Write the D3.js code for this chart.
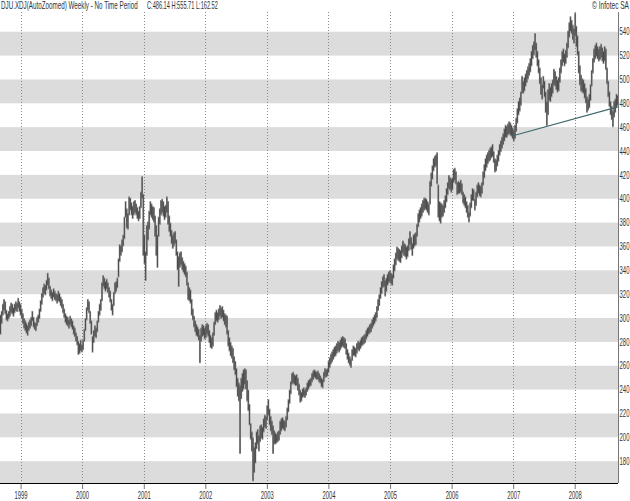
<!DOCTYPE html>
<html>
<head>
<meta charset="utf-8">
<script src="https://cdn.jsdelivr.net/npm/d3@7"></script>
<style>
  html, body { margin: 0; padding: 0; background: #fff; }
  svg { display: block; font-family: "Liberation Sans", Arial, sans-serif; }
</style>
</head>
<body>
<svg id="chart" width="630" height="501"></svg>
<script>
// weekly bars, [high, low], first bar dated 1998-09-04
const firstWeek = "1998-09-04";
const bars1998 = [[303,286],[306,295],[312,302],[316,306],[314,303],[307,298],[304,297],[306,299],[310,301],[313,304],[312,303],[309,301],[312,304],[314,306],[313,305],[317,308],[314,305]];
const bars1999 = [[312,302],[308,299],[304,295],[300,291],[298,289],[296,287],[294,285],[297,289],[299,291],[301,293],[306,297],[301,292],[297,290],[296,289],[301,293],[303,296],[308,299],[315,305],[321,311],[326,317],[329,320],[328,319],[332,323],[338,327],[334,324],[327,318],[324,316],[322,314],[325,317],[323,315],[321,314],[320,312],[323,314],[321,313],[318,310],[316,308],[312,304],[308,300],[304,296],[302,294],[301,293],[299,291],[302,294],[300,292],[298,290],[294,286],[292,284],[288,280],[285,277],[281,269],[279,270],[282,272],[278,271]];
const bars2000 = [[282,273],[291,280],[300,289],[309,298],[316,306],[314,304],[306,295],[298,286],[285,271],[290,279],[294,284],[292,283],[298,288],[306,296],[312,302],[316,306],[330,314],[336,326],[334,324],[331,322],[333,324],[330,321],[326,317],[323,313],[316,306],[312,302],[322,310],[330,320],[331,322],[334,325],[350,334],[362,347],[361,352],[366,355],[370,360],[385,366],[398,384],[392,375],[388,374],[402,386],[401,390],[397,386],[394,383],[398,386],[399,388],[396,386],[393,383],[390,381],[394,383],[406,392],[419,400],[404,352]];
const bars2001 = [[370,345],[356,331],[378,352],[381,365],[390,374],[398,386],[396,384],[394,382],[393,380],[386,368],[378,352],[370,342],[385,368],[392,378],[399,386],[400,388],[398,385],[394,382],[395,384],[402,388],[398,378],[386,372],[380,368],[374,362],[370,358],[372,360],[373,362],[366,352],[356,340],[352,326],[355,342],[356,344],[351,340],[348,338],[346,336],[344,334],[339,327],[330,315],[326,314],[324,312],[316,302],[308,298],[302,292],[298,288],[295,285],[293,284],[291,281],[286,262],[292,280],[295,284],[294,285],[292,282]];
const bars2002 = [[294,283],[296,286],[295,284],[290,279],[286,275],[284,274],[288,276],[297,285],[305,294],[307,297],[305,296],[308,298],[311,301],[309,299],[310,300],[307,297],[304,294],[303,292],[302,286],[290,276],[284,272],[280,268],[277,266],[275,262],[268,256],[264,252],[258,242],[250,234],[246,230],[244,186],[250,232],[254,238],[257,240],[258,244],[257,240],[248,230],[240,222],[228,210],[212,198],[205,188],[200,163],[192,170],[196,178],[205,190],[207,194],[202,188],[210,196],[211,199],[209,198],[216,204],[219,208],[218,207]];
const bars2003 = [[227,214],[232,218],[224,210],[218,205],[214,202],[210,186],[206,194],[204,194],[203,195],[205,196],[206,197],[214,202],[216,205],[217,207],[215,206],[214,205],[218,208],[225,214],[232,221],[240,228],[247,236],[254,244],[255,245],[253,244],[252,243],[253,243],[250,239],[245,235],[240,229],[238,230],[241,233],[242,234],[240,233],[242,235],[246,238],[248,240],[249,242],[250,243],[254,246],[256,248],[257,250],[256,249],[255,248],[256,248],[254,246],[252,245],[250,242],[249,241],[255,246],[258,250],[257,250],[258,251]];
const bars2004 = [[264,254],[267,258],[270,261],[272,263],[274,265],[276,267],[277,268],[279,270],[281,272],[280,271],[282,273],[284,275],[285,276],[284,275],[283,274],[279,269],[274,265],[271,262],[268,260],[266,258],[274,264],[277,268],[276,268],[275,267],[279,270],[281,273],[280,272],[282,274],[284,276],[285,277],[286,278],[287,279],[290,282],[292,284],[293,286],[295,287],[296,288],[299,291],[301,293],[303,295],[305,297],[310,300],[316,306],[320,310],[326,316],[331,320],[335,325],[337,326],[332,318],[334,322],[337,327],[339,329],[340,330]];
const bars2005 = [[338,328],[337,327],[345,333],[350,339],[355,344],[360,349],[359,348],[358,347],[357,346],[361,350],[365,354],[363,352],[362,351],[360,349],[361,351],[367,356],[373,361],[368,357],[363,352],[370,358],[371,360],[372,361],[379,368],[388,376],[391,380],[393,383],[396,385],[399,388],[401,390],[401,391],[400,390],[398,388],[396,386],[415,395],[422,410],[428,416],[434,423],[436,426],[437,427],[439,412],[412,384],[398,381],[397,379],[396,384],[395,385],[399,388],[403,392],[409,397],[414,403],[420,408],[418,407],[417,405]];
const bars2006 = [[418,407],[425,413],[426,415],[423,412],[414,403],[415,404],[414,404],[416,405],[413,403],[406,396],[404,394],[402,392],[398,388],[395,384],[389,380],[397,385],[404,392],[409,398],[408,398],[400,390],[406,394],[412,401],[414,404],[412,402],[411,401],[414,404],[423,411],[429,417],[434,423],[437,426],[439,429],[441,431],[443,432],[444,434],[446,435],[440,430],[434,422],[433,423],[437,427],[441,431],[446,436],[449,439],[452,442],[455,445],[459,448],[462,451],[461,451],[463,453],[465,454],[464,453],[462,452],[460,450]];
const bars2007 = [[458,448],[462,450],[468,456],[476,463],[482,470],[485,473],[490,478],[503,488],[499,488],[502,490],[505,494],[508,497],[511,500],[514,503],[518,506],[524,511],[529,517],[532,520],[539,524],[531,518],[524,511],[517,505],[510,496],[502,487],[496,483],[503,492],[499,485],[490,472],[482,461],[492,470],[497,482],[494,481],[497,485],[500,488],[509,495],[507,494],[503,491],[500,489],[502,490],[510,497],[517,505],[524,511],[526,514],[522,511],[525,513],[531,518],[541,526],[548,535],[553,540],[550,538],[546,533],[543,530]];
const bars2008 = [[556,536],[545,527],[537,520],[524,505],[512,495],[504,490],[501,489],[500,488],[497,484],[493,480],[486,472],[484,474],[488,476],[496,482],[508,494],[518,505],[526,514],[529,517],[531,519],[528,517],[526,515],[528,516],[530,518],[527,515],[524,513],[528,515],[526,508],[510,496],[499,485],[490,477],[482,470],[478,466],[474,460],[482,468],[484,472],[488,476],[487,478]];

const trendLine = [["2007-01-05", 453], ["2008-09-12", 477]];
const yTicks = [180, 200, 220, 240, 260, 280, 300, 320, 340, 360, 380, 400, 420, 440, 460, 480, 500, 520, 540];
const bandStarts = [160, 200, 240, 280, 320, 360, 400, 440, 480, 520];
const yearTicks = [1999, 2000, 2001, 2002, 2003, 2004, 2005, 2006, 2007, 2008];
const titleText = "DJU.XDJ(AutoZoomed) Weekly - No Time Period";
const quoteText = "C:486.14 H:555.71 L:162.52";
const creditText = "\u00A9 Infotec SA";
const lowClose = 162.52, highClose = 555.71;

const svg = d3.select("#chart");
const plot = {left: 0, right: 618, top: 12, bottom: 483};
const parse = d3.utcParse("%Y-%m-%d");

const x = d3.scaleUtc()
  .domain([Date.UTC(1998, 8, 1), Date.UTC(2008, 8, 14)])
  .range([plot.left, plot.right]);
const y = d3.scaleLinear()
  .domain([lowClose, highClose])
  .range([482, 13]);

const start = parse(firstWeek);
const weeks = [].concat(bars1998, bars1999, bars2000, bars2001, bars2002,
  bars2003, bars2004, bars2005, bars2006, bars2007, bars2008)
  .map((d, i) => ({date: d3.utcDay.offset(start, 7 * i), high: d[0], low: d[1]}));

// squeeze a text horizontally so it is `w` px wide (narrow font look)
function squeeze(sel, w, dx) {
  sel.each(function() {
    const t = d3.select(this);
    const s = w / this.getComputedTextLength();
    t.attr("x", 0).attr("transform", `translate(${dx || 0},0) scale(${s},1)`);
  });
}

svg.append("clipPath").attr("id", "plotclip")
  .append("rect")
  .attr("x", plot.left).attr("y", plot.top)
  .attr("width", plot.right - plot.left).attr("height", plot.bottom - plot.top);

const body = svg.append("g").attr("clip-path", "url(#plotclip)");

// grey bands
body.selectAll("rect.band").data(bandStarts).join("rect")
  .attr("class", "band")
  .attr("x", plot.left)
  .attr("width", plot.right - plot.left)
  .attr("y", d => y(d + 20))
  .attr("height", d => y(d) - y(d + 20))
  .attr("fill", "#dcdcdc");

// dotted year lines
body.selectAll("line.grid").data(yearTicks).join("line")
  .attr("class", "grid")
  .attr("x1", d => Math.round(x(Date.UTC(d, 0, 1))) + 0.5)
  .attr("x2", d => Math.round(x(Date.UTC(d, 0, 1))) + 0.5)
  .attr("y1", plot.top).attr("y2", plot.bottom)
  .attr("stroke", "#8a8a8a")
  .attr("stroke-dasharray", "1,2");

// bars: light wide layer, then dark thin layer
body.append("g").selectAll("line").data(weeks).join("line")
  .attr("x1", d => x(d.date)).attr("x2", d => x(d.date))
  .attr("y1", d => y(d.high)).attr("y2", d => y(d.low))
  .attr("stroke", "#8e8e8e")
  .attr("stroke-width", 1.8);

body.append("g").selectAll("line").data(weeks).join("line")
  .attr("x1", d => x(d.date)).attr("x2", d => x(d.date))
  .attr("y1", d => y(d.high) + 1).attr("y2", d => y(d.low) - 1)
  .attr("stroke", "#2e2e2e")
  .attr("stroke-width", 0.7);

// trend line
body.append("path")
  .datum(trendLine)
  .attr("d", d3.line().x(d => x(parse(d[0]))).y(d => y(d[1])))
  .attr("fill", "none")
  .attr("stroke", "#3f6a6a")
  .attr("stroke-width", 1.1);

// right value axis
const yAxis = svg.append("g")
  .attr("transform", `translate(${plot.right},0)`)
  .call(d3.axisRight(y).tickValues(yTicks).tickSize(0));
yAxis.select(".domain").remove();
yAxis.selectAll("text")
  .attr("font-size", 10)
  .attr("fill", "#333")
  .call(squeeze, 10, 1.5);
svg.append("line")
  .attr("x1", plot.right + 0.5).attr("x2", plot.right + 0.5)
  .attr("y1", plot.top).attr("y2", plot.bottom)
  .attr("stroke", "#777");

// bottom time axis
const xAxis = svg.append("g")
  .attr("transform", `translate(0,${plot.bottom})`)
  .call(d3.axisBottom(x)
    .tickValues(yearTicks.map(d => Date.UTC(d, 0, 1)))
    .tickFormat(d3.utcFormat("%Y"))
    .tickSize(6).tickPadding(3));
xAxis.select(".domain").remove();
xAxis.selectAll(".tick line").attr("stroke", "#777");
xAxis.selectAll("text")
  .attr("font-size", 10)
  .attr("fill", "#333")
  .call(squeeze, 13, 0);
svg.append("line")
  .attr("x1", plot.left).attr("x2", plot.right)
  .attr("y1", plot.bottom + 0.5).attr("y2", plot.bottom + 0.5)
  .attr("stroke", "#000");

// header texts
const header = [
  {text: titleText, x: 1, w: 137, anchor: "start"},
  {text: quoteText, x: 147, w: 71, anchor: "start"},
  {text: creditText, x: 629, w: 37, anchor: "end"}
];
svg.selectAll("text.header").data(header).join("text")
  .attr("class", "header")
  .attr("y", 9)
  .attr("font-size", 10)
  .attr("fill", "#333")
  .attr("text-anchor", d => d.anchor)
  .text(d => d.text)
  .each(function(d) {
    const s = d.w / this.getComputedTextLength();
    d3.select(this).attr("transform", `translate(${d.x},0) scale(${s},1)`);
  });
</script>
</body>
</html>
